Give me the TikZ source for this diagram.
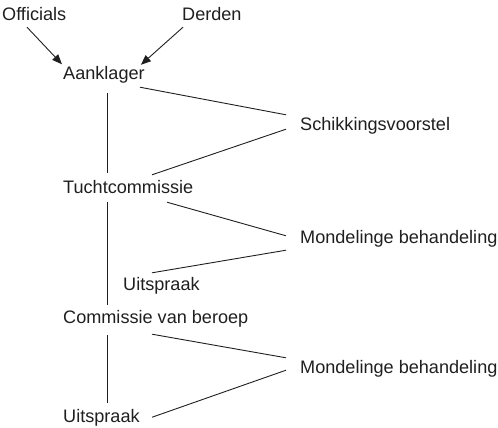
\documentclass[tikz,border=0pt]{standalone}
\usepackage{fontspec}
\setmainfont{Liberation Sans}
\usetikzlibrary{positioning,calc,arrows.meta}

\begin{document}
\begin{tikzpicture}[x=1pt, y=-1pt,
        lbl/.style={anchor=base west, inner sep=0pt, text height=13.5pt, text depth=4pt,
            font=\fontsize{18.1}{20}\selectfont, text=black!88},
        lnk/.style={line width=0.9pt, black!88},
        arr/.style={lnk, -{Triangle[length=10pt,width=8pt]}}]
        \useasboundingbox (0,0) rectangle (498,428);
        % labels
        \node[lbl] (off) at (2,21) {Officials};
        \node[lbl] (der) at (182,21) {Derden};
        \node[lbl] (ank) at (63,79) {Aanklager};
        \node[lbl] (sch) at (300,130) {Schikkingsvoorstel};
        \node[lbl] (tuc) at (63,193) {Tuchtcommissie};
        \node[lbl] (mon1) at (300,243) {Mondelinge behandeling};
        \node[lbl] (uit1) at (123,290) {Uitspraak};
        \node[lbl] (com) at (63,323) {Commissie van beroep};
        \node[lbl] (mon2) at (300,373) {Mondelinge behandeling};
        \node[lbl] (uit2) at (63,422) {Uitspraak};
        % arrows in
        \draw[arr] ($(off.south west)+(25,2)$) -- ($(ank.north west)+(-1,-1)$);
        \draw[arr] ($(der.south west)+(1,2)$) -- ($(ank.north east)+(-4,-0.5)$);
        % main line
        \draw[lnk] ($(ank.south west)+(44,10)$) -- ($(tuc.north west)+(44,-6.5)$);
        \draw[lnk] ($(tuc.south west)+(44,5)$) -- ($(com.north west)+(44,-4.5)$);
        \draw[lnk] ($(com.south west)+(44,8)$) -- ($(uit2.north west)+(44,-5.5)$);
        % side steps
        \draw[lnk] ($(ank.south east)+(-5,4)$) -- ($(sch.north west)+(-14,-1.5)$);
        \draw[lnk] ($(sch.south west)+(-14,-5)$) -- ($(tuc.north west)+(89,-4.5)$);
        \draw[lnk] ($(tuc.south west)+(104,5)$) -- ($(mon1.north west)+(-14,6.5)$);
        \draw[lnk] ($(mon1.south west)+(-14,3)$) -- ($(uit1.north west)+(29,-3.5)$);
        \draw[lnk] ($(com.south west)+(89,7)$) -- ($(mon2.north west)+(-14,-1.5)$);
        \draw[lnk] ($(mon2.south west)+(-14,-7)$) -- ($(uit2.west)+(89,0)$);
    \end{tikzpicture}
\end{document}
